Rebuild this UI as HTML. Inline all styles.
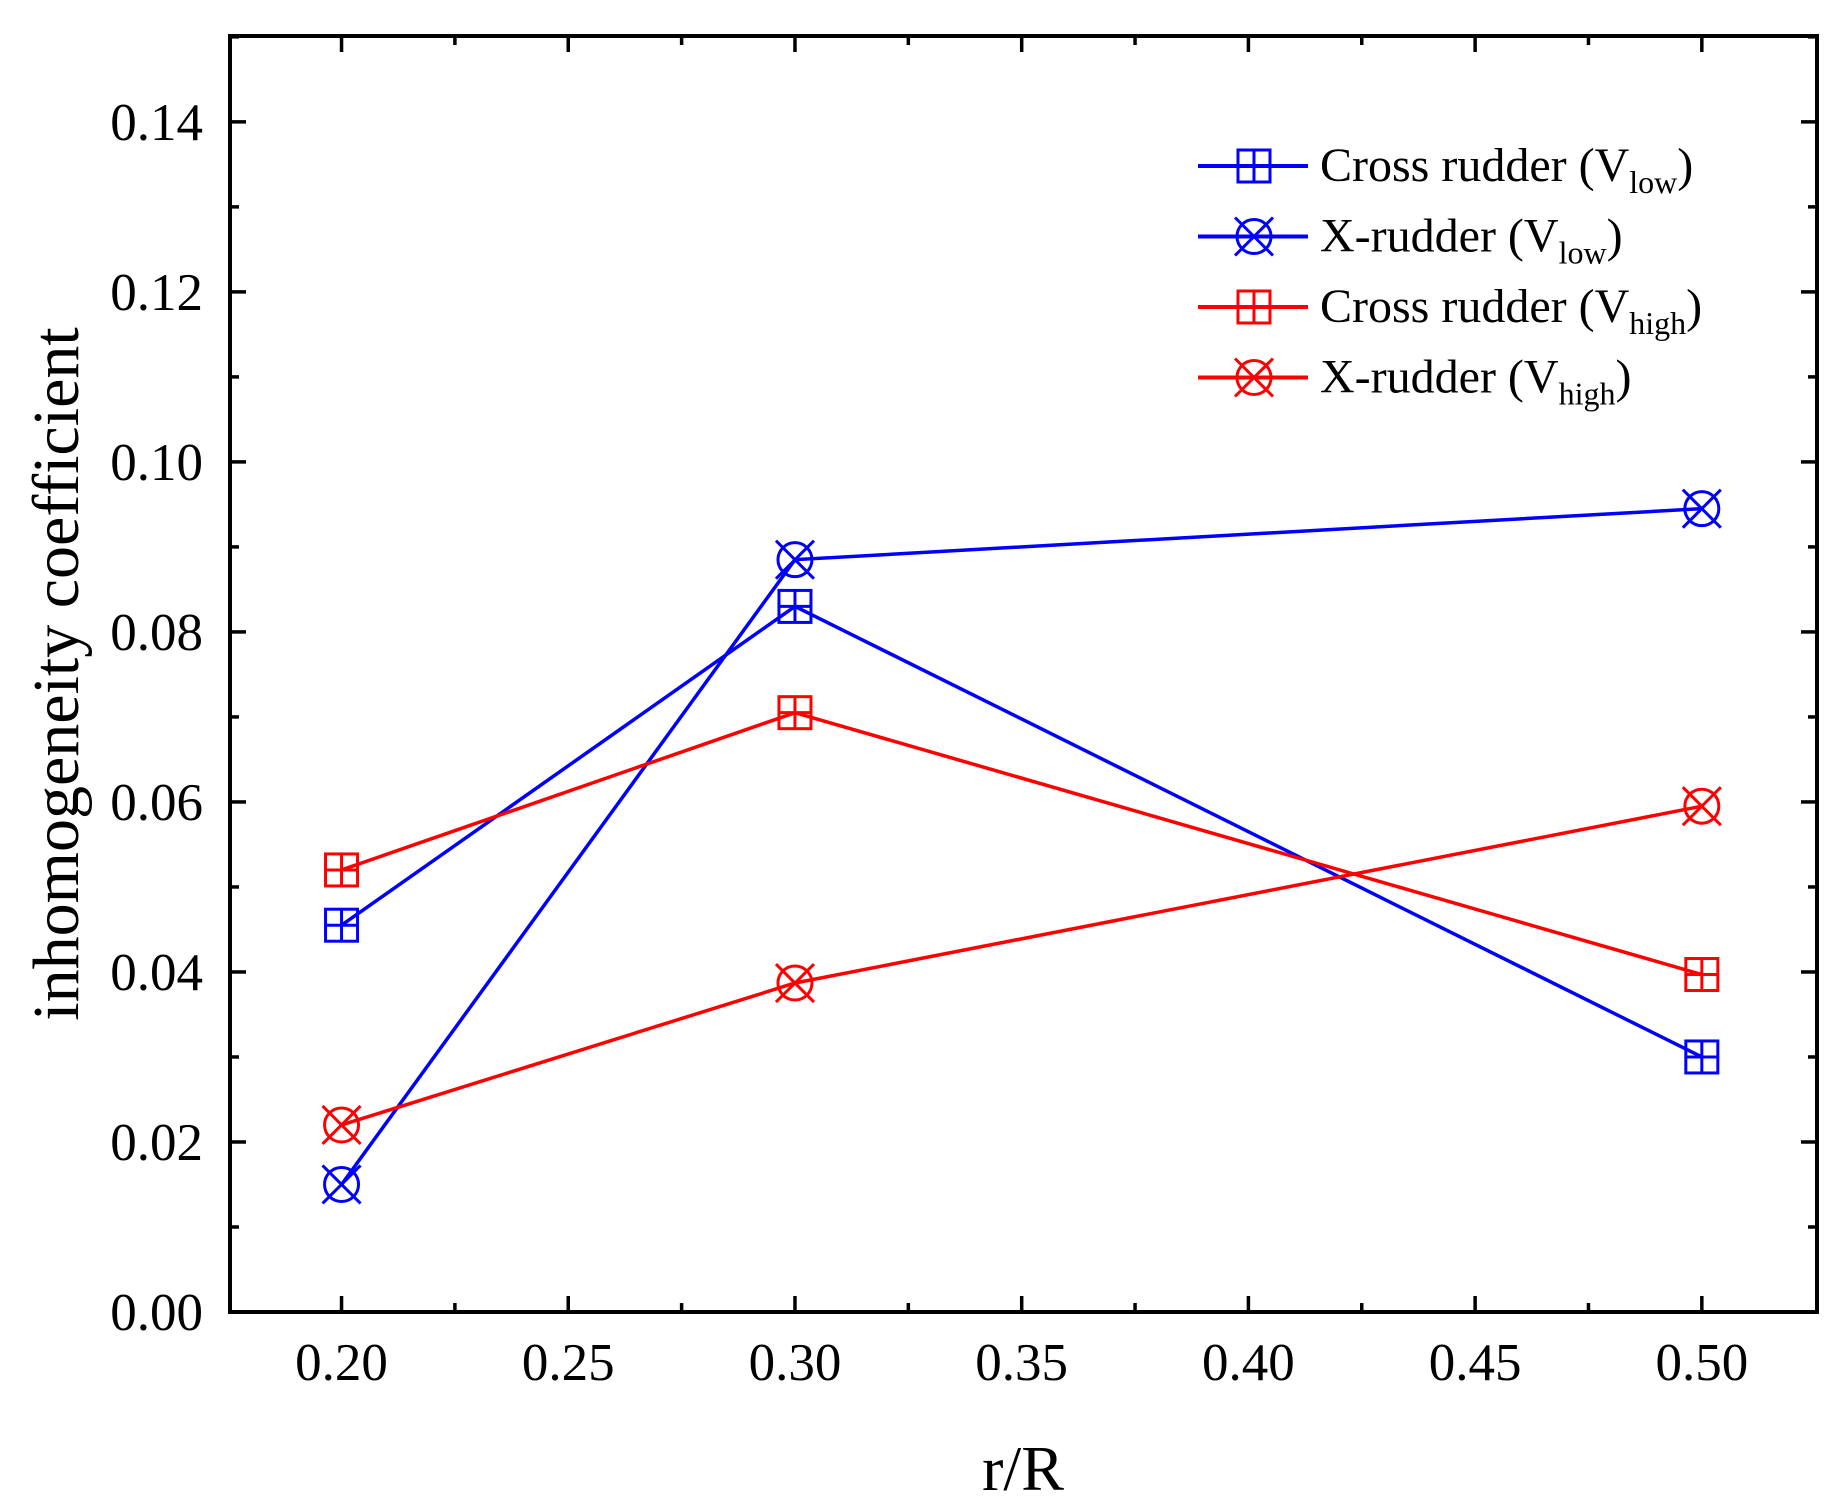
<!DOCTYPE html>
<html><head><meta charset="utf-8"><style>
body{margin:0;background:#fff;}
svg{display:block;font-family:"Liberation Serif",serif;}
</style></head><body>
<svg id="chart" width="1843" height="1511" xmlns="http://www.w3.org/2000/svg"></svg>
<script>
const categories=[0.20,0.30,0.50];
const crossLow=[0.0455,0.083,0.030];
const xLow=[0.015,0.0885,0.0945];
const crossHigh=[0.052,0.0705,0.0397];
const xHigh=[0.022,0.0387,0.0595];
const xTickLabels=["0.20","0.25","0.30","0.35","0.40","0.45","0.50"];
const yTickLabels=["0.00","0.02","0.04","0.06","0.08","0.10","0.12","0.14"];

const L=230,R=1817,T=36,B=1312;
const X0=0.1754,X1=0.5254,Y0=0,Y1=0.1501;
const sx=v=>L+(v-X0)/(X1-X0)*(R-L);
const sy=v=>B-(v-Y0)/(Y1-Y0)*(B-T);
const svg=document.getElementById('chart');
const NS='http://www.w3.org/2000/svg';
function mk(tag,attrs,parent){const e=document.createElementNS(NS,tag);for(const k in attrs)e.setAttribute(k,attrs[k]);(parent||svg).appendChild(e);return e;}

const frame=mk('rect',{x:L,y:T,width:R-L,height:B-T,fill:'none',stroke:'#000','stroke-width':4});



xTickLabels.forEach((t,i)=>{
  const v=parseFloat(t);const x=sx(v);
  mk('line',{x1:x,y1:B,x2:x,y2:B-16,stroke:'#000','stroke-width':3.5});
  mk('line',{x1:x,y1:T,x2:x,y2:T+16,stroke:'#000','stroke-width':3.5});
  const lab=mk('text',{x:x,y:1380,'text-anchor':'middle','font-size':53});
  lab.textContent=t;
  
  
  if(i<xTickLabels.length-1){const m=sx(v+0.025);
    mk('line',{x1:m,y1:B,x2:m,y2:B-9,stroke:'#000','stroke-width':3.5});
    mk('line',{x1:m,y1:T,x2:m,y2:T+9,stroke:'#000','stroke-width':3.5});}
});
yTickLabels.forEach((t,i)=>{
  const v=parseFloat(t);const y=sy(v);
  mk('line',{x1:L,y1:y,x2:L+16,y2:y,stroke:'#000','stroke-width':3.5});
  mk('line',{x1:R,y1:y,x2:R-16,y2:y,stroke:'#000','stroke-width':3.5});
  const lab=mk('text',{x:203,y:y+18,'text-anchor':'end','font-size':53});
  lab.textContent=t;
  
  
  const m=sy(v+0.01);
  mk('line',{x1:L,y1:m,x2:L+9,y2:m,stroke:'#000','stroke-width':3.5});
  mk('line',{x1:R,y1:m,x2:R-9,y2:m,stroke:'#000','stroke-width':3.5});
});

const xt=mk('text',{x:1023,y:1490,'text-anchor':'middle','font-size':64});
xt.textContent='r/R';


const yt=mk('text',{x:0,y:0,'text-anchor':'middle','font-size':66,transform:'translate(78,674) rotate(-90)'});
yt.textContent='inhomogeneity coefficient';



function marker(g,type,cx,cy,col){
  if(type==='sq'){
    mk('rect',{x:cx-16,y:cy-16,width:32,height:32,fill:'none',stroke:col,'stroke-width':3},g);
    mk('line',{x1:cx,y1:cy-16,x2:cx,y2:cy+16,stroke:col,'stroke-width':3},g);
    mk('line',{x1:cx-16,y1:cy,x2:cx+16,y2:cy,stroke:col,'stroke-width':3},g);
  }else{
    mk('circle',{cx:cx,cy:cy,r:17,fill:'none',stroke:col,'stroke-width':3},g);
    mk('line',{x1:cx-19,y1:cy-19,x2:cx+19,y2:cy+19,stroke:col,'stroke-width':3},g);
    mk('line',{x1:cx-19,y1:cy+19,x2:cx+19,y2:cy-19,stroke:col,'stroke-width':3},g);
  }
}
const series=[
 {d:crossLow,c:'#0000ff',m:'sq',n:'series-cross-low'},
 {d:xLow,c:'#0000ff',m:'x',n:'series-x-low'},
 {d:crossHigh,c:'#ff0000',m:'sq',n:'series-cross-high'},
 {d:xHigh,c:'#ff0000',m:'x',n:'series-x-high'}
];
series.forEach(s=>{
  const g=mk('g',{});
  
  
  const pts=s.d.map((v,i)=>sx(categories[i])+','+sy(v)).join(' ');
  mk('polyline',{points:pts,fill:'none',stroke:s.c,'stroke-width':3.5},g);
  s.d.forEach((v,i)=>marker(g,s.m,sx(categories[i]),sy(v),s.c));
});

const legRows=[
 {c:'#0000ff',m:'sq',t:'Cross rudder (V',s:'low'},
 {c:'#0000ff',m:'x',t:'X-rudder (V',s:'low'},
 {c:'#ff0000',m:'sq',t:'Cross rudder (V',s:'high'},
 {c:'#ff0000',m:'x',t:'X-rudder (V',s:'high'}
];
legRows.forEach((r,i)=>{
  const y=166+i*70.5;
  const g=mk('g',{});
  
  
  mk('line',{x1:1198,y1:y,x2:1308,y2:y,stroke:r.c,'stroke-width':4},g);
  marker(g,r.m,1254,y,r.c);
  const tx=mk('text',{x:1320,y:y+15,'font-size':48},g);
  tx.appendChild(document.createTextNode(r.t));
  const sub=mk('tspan',{'font-size':32,dy:12},tx);sub.textContent=r.s;
  const cl=mk('tspan',{dy:-12},tx);cl.textContent=')';
});
</script>
</body></html>
